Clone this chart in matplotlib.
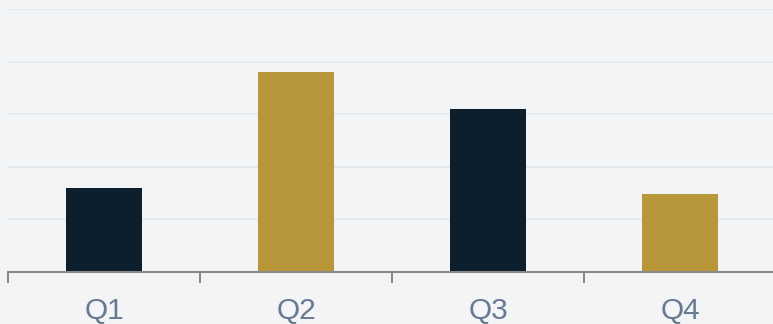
import numpy as np
import matplotlib.pyplot as plt
from matplotlib.ticker import FixedLocator

# quarterly values
quarters = ["Q1", "Q2", "Q3", "Q4"]
values = [32, 76, 62, 29.5]
bar_colors = ["#0d1f2d", "#b8963a", "#0d1f2d", "#b8963a"]
grid_ticks = [0, 20, 40, 60, 80, 100]

bg = "#f3f4f6"

fig = plt.figure(figsize=(7.73, 3.24), dpi=100, facecolor=bg)
ax = fig.add_axes([8 / 773, 52 / 324, 768 / 773, 263 / 324])
ax.set_facecolor(bg)

x = np.arange(len(quarters))
ax.bar(x, values, width=0.4, color=bar_colors, zorder=3)

ax.set_xlim(-0.5, len(quarters) - 0.5)
ax.set_ylim(0, 100)
ax.set_yticks(grid_ticks)
ax.yaxis.grid(True, color="#e3e7ee", linewidth=1.2, zorder=0)
ax.tick_params(axis="y", left=False, labelleft=False)

# labels centred on bars, tick marks on category boundaries
ax.set_xticks(x)
ax.set_xticklabels(quarters)
ax.xaxis.set_minor_locator(FixedLocator(np.arange(-0.5, len(quarters), 1.0)))
ax.tick_params(axis="x", which="major", length=0, pad=18,
               labelsize=21.5, labelcolor="#687a92")
ax.tick_params(axis="x", which="minor", length=8, width=1.5, color="#8a8a8a")

for side in ["top", "right", "left"]:
    ax.spines[side].set_visible(False)
ax.spines["bottom"].set_color("#8a8a8a")
ax.spines["bottom"].set_linewidth(1.5)
ax.spines["bottom"].set_zorder(4)

for lbl in ax.get_xticklabels():
    lbl.set_family(["Liberation Sans", "DejaVu Sans"])

fig.savefig("out.png", dpi=100, facecolor=bg)
